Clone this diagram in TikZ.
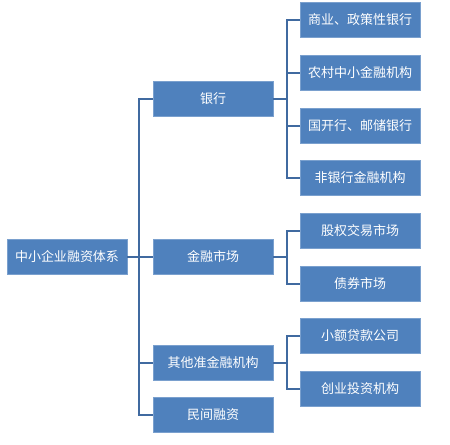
\documentclass[tikz,border=0pt]{standalone}
\usepackage{fontspec}
\newfontfamily\cjk{Noto Sans CJK SC}
\tikzset{every picture/.style={line width=0.75pt}}
\tikzset{
  box/.style={draw={rgb, 255:red, 122; green, 160; blue, 206 }, line width=0.5pt, fill={rgb, 255:red, 79; green, 129; blue, 189 }, text=white, minimum width=90pt, minimum height=26.25pt, inner sep=0pt, font=\cjk\fontsize{9.75pt}{12pt}\selectfont},
  link/.style={draw={rgb, 255:red, 64; green, 106; blue, 160 }, line width=1.5pt}
}
\begin{document}
\begin{tikzpicture}[x=0.75pt,y=0.75pt,yscale=-1,xscale=1]
	\useasboundingbox (0,0) rectangle (450,444); %picture is 450 x 444

	%Root
	\node [box] (root) at (67,256.5) {中小企业融资体系};
	%Second level
	\node [box] (bank) at (213,99) {银行};
	\node [box] (market) at (213,256.5) {金融市场};
	\node [box] (quasi) at (213,362.5) {其他准金融机构};
	\node [box] (private) at (213,415) {民间融资};
	%Third level
	\node [box] (b1) at (360,20) {商业、政策性银行};
	\node [box] (b2) at (360,72.5) {农村中小金融机构};
	\node [box] (b3) at (360,125.5) {国开行、邮储银行};
	\node [box] (b4) at (360,178) {非银行金融机构};
	\node [box] (m1) at (360,230.5) {股权交易市场};
	\node [box] (m2) at (360,283.5) {债券市场};
	\node [box] (q1) at (360,336) {小额贷款公司};
	\node [box] (q2) at (360,388.5) {创业投资机构};

	%Trunk from root
	\draw [link] (root.east) -- (market.west) ;
	\draw [link] (bank.west) -- ++(-14,0) |- (private.west) ;
	\draw [link] (quasi.west) -- ++(-14,0) ;
	%Bank branch
	\draw [link] (bank.east) -- ++(14,0) ;
	\draw [link] (b1.west) -- ++(-13,0) |- (b4.west) ;
	\draw [link] (b2.west) -- ++(-13,0) ;
	\draw [link] (b3.west) -- ++(-13,0) ;
	%Market branch
	\draw [link] (market.east) -- ++(14,0) ;
	\draw [link] (m1.west) -- ++(-13,0) |- (m2.west) ;
	%Quasi branch
	\draw [link] (quasi.east) -- ++(14,0) ;
	\draw [link] (q1.west) -- ++(-13,0) |- (q2.west) ;

\end{tikzpicture}
\end{document}
